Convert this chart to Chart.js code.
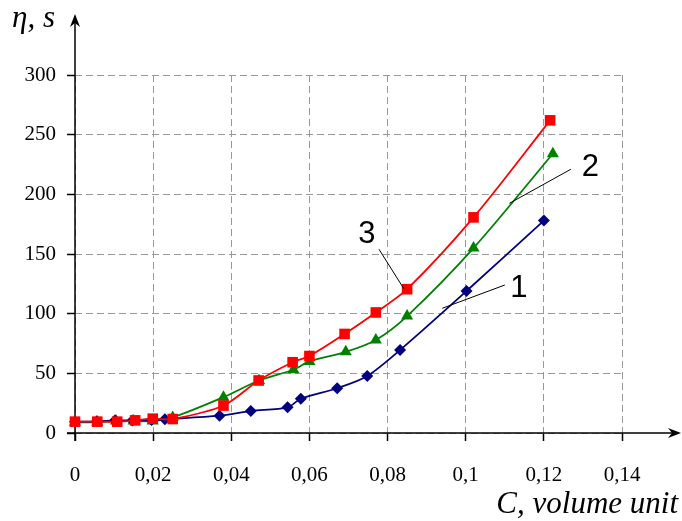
<!DOCTYPE html>
<html>
<head>
<meta charset="utf-8">
<script src="https://cdn.jsdelivr.net/npm/chart.js@4"></script>
<style>
html, body { margin: 0; padding: 0; background: #fff; }
</style>
</head>
<body>
<canvas id="grafico" width="682" height="521"></canvas>
<script>
// concentration (volume unit) and viscosity (s)
const conc1 = [0, 0.0056, 0.0102, 0.0147, 0.0196, 0.023, 0.037, 0.045, 0.0544, 0.0578, 0.0671, 0.0748, 0.0832, 0.1002, 0.12];
const visc1 = [9.5, 9.8, 10.5, 10.5, 10.8, 11.5, 14.5, 18.4, 21.5, 28.7, 37.5, 47.8, 69.6, 119, 178];

const conc2 = [0, 0.0057, 0.0105, 0.015, 0.0199, 0.025, 0.038, 0.0471, 0.0559, 0.06, 0.0693, 0.077, 0.085, 0.102, 0.1223];
const visc2 = [9, 9, 10, 10, 10, 13, 30, 44, 53, 60, 68, 78, 98, 155, 234];

const conc3 = [0, 0.0057, 0.0108, 0.0154, 0.0199, 0.025, 0.038, 0.047, 0.0557, 0.06, 0.069, 0.077, 0.085, 0.102, 0.1216];
const visc3 = [9.5, 9.5, 9.5, 10.6, 12, 11.7, 23, 44, 59.3, 64.5, 83, 101, 120.5, 180.7, 262];

const xTicks = [0, 0.02, 0.04, 0.06, 0.08, 0.1, 0.12, 0.14];
const yTicks = [0, 50, 100, 150, 200, 250, 300];

// curve numbers: text position and leader line, in data units
const curveLabels = [
  { text: '1', x: 0.1136, y: 114, lx1: 0.110, ly1: 124, lx2: 0.094, ly2: 104.5 },
  { text: '2', x: 0.1319, y: 215, lx1: 0.1269, ly1: 221, lx2: 0.1112, ly2: 192.5 },
  { text: '3', x: 0.0747, y: 159, lx1: 0.0778, ly1: 154, lx2: 0.0842, ly2: 120.7 }
];

const pontos = (xs, ys) => xs.map((x, i) => ({ x: x, y: ys[i] }));
const virgula = v => String(Number(v.toFixed(2))).replace('.', ',');

function seta(ctx, tx, ty, dx, dy) {
  const px = -dy, py = dx;
  ctx.beginPath();
  ctx.moveTo(tx, ty);
  ctx.lineTo(tx - 13 * dx + 5 * px, ty - 13 * dy + 5 * py);
  ctx.lineTo(tx - 9 * dx, ty - 9 * dy);
  ctx.lineTo(tx - 13 * dx - 5 * px, ty - 13 * dy - 5 * py);
  ctx.closePath();
  ctx.fill();
}

const extras = {
  id: 'extras',
  beforeDatasetsDraw(chart) {
    const { ctx, chartArea: a } = chart;
    ctx.save();
    ctx.strokeStyle = '#000';
    ctx.fillStyle = '#000';
    ctx.lineWidth = 1.5;
    ctx.beginPath();
    ctx.moveTo(a.left, a.bottom + 8);
    ctx.lineTo(a.left, 22);
    ctx.stroke();
    seta(ctx, a.left, 14, 0, -1);
    ctx.beginPath();
    ctx.moveTo(a.left - 8, a.bottom);
    ctx.lineTo(674, a.bottom);
    ctx.stroke();
    seta(ctx, 681, a.bottom, 1, 0);
    ctx.restore();
  },
  afterDatasetsDraw(chart) {
    const { ctx } = chart;
    const sx = chart.scales.x, sy = chart.scales.y;
    ctx.save();
    ctx.strokeStyle = '#000';
    ctx.lineWidth = 1;
    ctx.fillStyle = '#000';
    ctx.font = '31px "Liberation Sans", Arial, sans-serif';
    ctx.textAlign = 'center';
    ctx.textBaseline = 'alphabetic';
    curveLabels.forEach(l => {
      ctx.beginPath();
      ctx.moveTo(sx.getPixelForValue(l.lx1), sy.getPixelForValue(l.ly1));
      ctx.lineTo(sx.getPixelForValue(l.lx2), sy.getPixelForValue(l.ly2));
      ctx.stroke();
      ctx.fillText(l.text, sx.getPixelForValue(l.x), sy.getPixelForValue(l.y));
    });
    ctx.font = 'italic 31px "Liberation Serif", "Times New Roman", serif';
    ctx.textAlign = 'left';
    ctx.fillText('\u03b7, s', 12, 27);
    ctx.textAlign = 'right';
    ctx.fillText('C, volume unit', 678, 513);
    ctx.restore();
  }
};

const fonteEixo = { family: '"Liberation Serif", "Times New Roman", serif', size: 21 };

new Chart(document.getElementById('grafico'), {
  type: 'line',
  data: {
    datasets: [
      {
        label: '3', data: pontos(conc3, visc3), order: 1,
        borderColor: '#ff0000', backgroundColor: '#ff0000', borderWidth: 1.8,
        pointStyle: 'rect', pointRadius: 7.5, pointBorderWidth: 0, tension: 0.3, clip: false
      },
      {
        label: '1', data: pontos(conc1, visc1), order: 2,
        borderColor: '#000080', backgroundColor: '#000080', borderWidth: 1.8,
        pointStyle: 'rectRot', pointRadius: 6, pointBorderWidth: 0, tension: 0.3, clip: false
      },
      {
        label: '2', data: pontos(conc2, visc2), order: 3,
        borderColor: '#008000', backgroundColor: '#008000', borderWidth: 1.8,
        pointStyle: 'triangle', pointRadius: 7, pointBorderWidth: 0, tension: 0.3, clip: false
      }
    ]
  },
  options: {
    responsive: false,
    animation: false,
    events: [],
    layout: { padding: { left: 0, top: 75, right: 60, bottom: 0 } },
    plugins: { legend: { display: false }, tooltip: { enabled: false } },
    scales: {
      x: {
        type: 'linear', min: 0, max: 0.14,
        afterFit: s => { s.height = 88; },
        afterBuildTicks: s => { s.ticks = xTicks.map(v => ({ value: v })); },
        grid: { color: '#999', lineWidth: 1, tickLength: 8, tickColor: '#000', tickWidth: 1.5, tickBorderDash: [] },
        border: { display: false, dash: [7, 4] },
        ticks: { color: '#000', font: fonteEixo, padding: 22, maxRotation: 0, callback: v => virgula(v) }
      },
      y: {
        min: 0, max: 300,
        afterFit: s => { s.width = 75; },
        afterBuildTicks: s => { s.ticks = yTicks.map(v => ({ value: v })); },
        grid: { color: '#999', lineWidth: 1, tickLength: 8, tickColor: '#000', tickWidth: 1.5, tickBorderDash: [] },
        border: { display: false, dash: [7, 4] },
        ticks: { color: '#000', font: fonteEixo, padding: 11, callback: v => String(v) }
      }
    }
  },
  plugins: [extras]
});
</script>
</body>
</html>
